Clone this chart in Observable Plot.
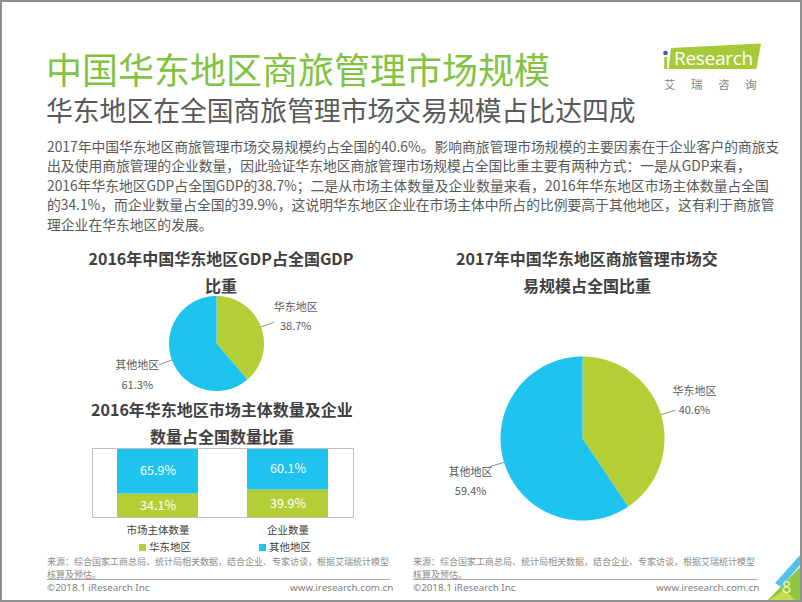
<!DOCTYPE html>
<html>
<head>
<meta charset="utf-8">
<script src="https://cdn.jsdelivr.net/npm/d3@7"></script>
<script src="https://cdn.jsdelivr.net/npm/@observablehq/plot@0.6"></script>
<style>
  html, body { margin: 0; padding: 0; background: #fff; }
  #slide { position: relative; width: 802px; height: 602px; overflow: hidden; background: #fff;
    font-family: "Noto Sans CJK SC", "Noto Sans", sans-serif; }
  .abs { position: absolute; white-space: nowrap; }
  .ctitle { font-size: 16px; font-weight: bold; color: #404040; line-height: 26.5px; text-align: center; width: 320px; }
  .src { font-size: 9px; color: #8c8c8c; line-height: 13px; }
  .copy { font-size: 9.8px; color: #7f7f7f; font-family: "Noto Sans", "Open Sans", sans-serif; line-height: 13px; }
  .rule { position: absolute; height: 0; border-top: 1px solid #a6a6a6; }
  .sw { position: absolute; width: 7px; height: 7px; }
  .lg { font-size: 10.5px; color: #404040; line-height: 15px; }
  #frameborder { position: absolute; left: 0; top: 0; width: 802px; height: 602px; box-sizing: border-box;
    border: 2px solid #8f8f8f; pointer-events: none; }
</style>
</head>
<body>
<div id="slide">
  <div class="abs" style="left:46px;top:47px;font-size:36px;line-height:42px;color:#82c341;">中国华东地区商旅管理市场规模</div>
  <div class="abs" style="left:46px;top:94px;font-size:26.8px;line-height:31px;color:#595959;">华东地区在全国商旅管理市场交易规模占比达四成</div>

  <!-- logo -->
  <svg class="abs" style="left:655px;top:38px" width="110" height="40" viewBox="655 38 110 40">
    <circle cx="665.5" cy="53" r="2.3" fill="#2e5fa8"></circle>
    <rect x="664.2" y="57" width="3" height="12" fill="#a8c93a"></rect>
    <polygon points="671,48 761,43.5 756.5,69 668.5,69" fill="#a8c93a"></polygon>
  </svg>
  <div class="abs" style="left:674px;top:45px;font-size:19px;line-height:26px;color:#fff;font-family:'Open Sans','Noto Sans',sans-serif;letter-spacing:-0.3px;">Research</div>
  <div class="abs" style="left:664px;top:76px;font-size:11.5px;line-height:16px;color:#7f7f7f;letter-spacing:15.5px;">艾瑞咨询</div>

  <div class="abs" style="left:47px;top:136.5px;font-size:13.8px;line-height:19.5px;color:#595959;">2017年中国华东地区商旅管理市场交易规模约占全国的40.6%。影响商旅管理市场规模的主要因素在于企业客户的商旅支<br>出及使用商旅管理的企业数量，因此验证华东地区商旅管理市场规模占全国比重主要有两种方式：一是从GDP来看，<br>2016年华东地区GDP占全国GDP的38.7%；二是从市场主体数量及企业数量来看，2016年华东地区市场主体数量占全国<br>的34.1%，而企业数量占全国的39.9%，这说明华东地区企业在市场主体中所占的比例要高于其他地区，这有利于商旅管<br>理企业在华东地区的发展。</div>

  <div class="abs ctitle" style="left:61px;top:245.3px;">2016年中国华东地区GDP占全国GDP<br>比重</div>
  <div class="abs ctitle" style="left:62px;top:396px;">2016年华东地区市场主体数量及企业<br>数量占全国数量比重</div>
  <div class="abs ctitle" style="left:427px;top:245.3px;">2017年中国华东地区商旅管理市场交<br>易规模占全国比重</div>

  <div id="pie1" class="abs" style="left:86px;top:288px;"></div>
  <div id="pie2" class="abs" style="left:412px;top:338px;"></div>
  <div id="bars" class="abs" style="left:91px;top:447px;"></div>
  <div id="legend"></div>

  <div class="abs src" style="left:47px;top:554.5px;">来源：综合国家工商总局、统计局相关数据，结合企业、专家访谈，根据艾瑞统计模型</div>
  <div class="abs src" style="left:47px;top:567.5px;">核算及预估。</div>
  <div class="rule" style="left:47px;top:579px;width:343px;"></div>
  <div class="abs copy" style="left:47px;top:581px;">©2018.1 iResearch Inc</div>
  <div class="abs copy" style="left:290px;top:581px;width:102px;text-align:right;">www.iresearch.com.cn</div>

  <div class="abs src" style="left:413px;top:554.5px;">来源：综合国家工商总局、统计局相关数据，结合企业、专家访谈，根据艾瑞统计模型</div>
  <div class="abs src" style="left:413px;top:567.5px;">核算及预估。</div>
  <div class="rule" style="left:413px;top:579px;width:344px;"></div>
  <div class="abs copy" style="left:413px;top:581px;">©2018.1 iResearch Inc</div>
  <div class="abs copy" style="left:656px;top:581px;width:102px;text-align:right;">www.iresearch.com.cn</div>

  <!-- corner decoration -->
  <svg class="abs" style="left:740px;top:540px" width="62" height="62" viewBox="740 540 62 62">
    <polygon points="766,602 802,565 802,602" fill="#8dc63f"></polygon>
    <polygon points="775,583 802,553 802,563 781,587" fill="#55c1ea"></polygon>
    <polygon points="766,602 784,590 798,602" fill="#c8dc50"></polygon>
  </svg>
  <div class="abs" style="left:782px;top:577px;font-size:16px;line-height:20px;color:#f4f7c8;font-family:'Open Sans','Noto Sans',sans-serif;">8</div>

  <div id="frameborder"></div>
</div>

<script>
// ---- data ----
const regions = ["华东地区", "其他地区"];
const gdpShare = [38.7, 61.3];          // 2016 华东 GDP 占全国
const tradeShare = [40.6, 59.4];        // 2017 商旅管理市场交易规模占全国
const barCategories = ["市场主体数量", "企业数量"];
const barEastShare = [34.1, 39.9];
const barOtherShare = [65.9, 60.1];

// ---- styles ----
const regionColors = ["#b3cf35", "#1fc3ef"];
const plotStyle = {background: "transparent", overflow: "visible",
  fontFamily: "'Noto Sans CJK SC', 'Noto Sans', sans-serif"};

function pieChart(shares, {width, height, inset, labelGap, leaderLen, labelTurn}) {
  const r = (height - 2 * inset) / 2;
  const total = d3.sum(shares);
  let acc = 0;
  const slices = shares.map((v, i) => {
    const a0 = acc / total * 360; acc += v; const a1 = acc / total * 360;
    const n = Math.max(2, Math.ceil(a1 - a0));
    const ring = [[0, 90]];
    for (let k = 0; k <= n; k++) ring.push([180 - (a0 + (a1 - a0) * k / n), 0]);
    ring.push([0, 90]);
    let geometry = {type: "Polygon", coordinates: [ring]};
    if (d3.geoArea(geometry) > 2 * Math.PI) geometry = {type: "Polygon", coordinates: [ring.slice().reverse()]};
    return {type: "Feature", properties: {region: regions[i], value: v, lon: 180 - (a0 + a1) / 2}, geometry};
  });
  const lab = slices.map(s => s.properties);
  return Plot.plot({
    width, height, margin: 0,
    style: plotStyle,
    projection: {
      type: "azimuthal-equidistant", rotate: [0, -90], inset,
      domain: d3.geoCircle().center([0, 90]).radius(90).precision(1)()
    },
    color: {domain: regions, range: regionColors},
    marks: [
      Plot.geo(slices, {fill: d => d.properties.region}),
      Plot.link(lab, {x1: "lon", y1: () => 0, x2: "lon", y2: () => -90 * leaderLen / r,
        stroke: "#8c8c8c", strokeWidth: 1}),
      Plot.text(lab, {x: d => d.lon + labelTurn, y: () => -90 * labelGap / r,
        text: d => `${d.region}\n${d.value.toFixed(1)}%`,
        fontSize: 11, fill: "#595959", lineHeight: 1.75})
    ]
  });
}

document.getElementById("pie1").append(
  pieChart(gdpShare, {width: 260, height: 110, inset: 7.5, labelGap: 37, leaderLen: 14, labelTurn: 0}));
document.getElementById("pie2").append(
  pieChart(tradeShare, {width: 340, height: 200, inset: 18, labelGap: 37, leaderLen: 15, labelTurn: 3}));

// ---- stacked bars ----
const barData = barCategories.flatMap((c, i) => [
  {cat: c, region: regions[0], value: barEastShare[i]},
  {cat: c, region: regions[1], value: barOtherShare[i]}
]);
document.getElementById("bars").append(Plot.plot({
  width: 263, height: 100,
  marginTop: 1, marginLeft: 1, marginRight: 1, marginBottom: 30,
  style: {...plotStyle, fontSize: "10.5px", color: "#404040"},
  x: {domain: barCategories, paddingInner: 0.377, paddingOuter: 0.19, label: null},
  y: {domain: [0, 100], axis: null},
  color: {domain: regions, range: regionColors},
  marks: [
    Plot.barY(barData, {x: "cat", y: "value", fill: "region"}),
    Plot.text(barData, Plot.stackY({x: "cat", y: "value", z: "region",
      text: d => d.value.toFixed(1) + "%", fill: "white", fontSize: 12.5})),
    Plot.frame({stroke: "#bfbfbf"}),
    Plot.axisX({tickSize: 0, tickPadding: 9, fontSize: 10.5, label: null})
  ]
}));

// ---- legend ----
const legendPos = [139, 259];
const legend = document.getElementById("legend");
regions.forEach((name, i) => {
  const sw = document.createElement("div");
  sw.className = "sw";
  sw.style.left = legendPos[i] + "px"; sw.style.top = "543.5px";
  sw.style.background = regionColors[i];
  legend.append(sw);
  const t = document.createElement("div");
  t.className = "abs lg";
  t.style.left = (legendPos[i] + 10) + "px"; t.style.top = "539.3px";
  t.textContent = name;
  legend.append(t);
});
</script>
</body>
</html>
